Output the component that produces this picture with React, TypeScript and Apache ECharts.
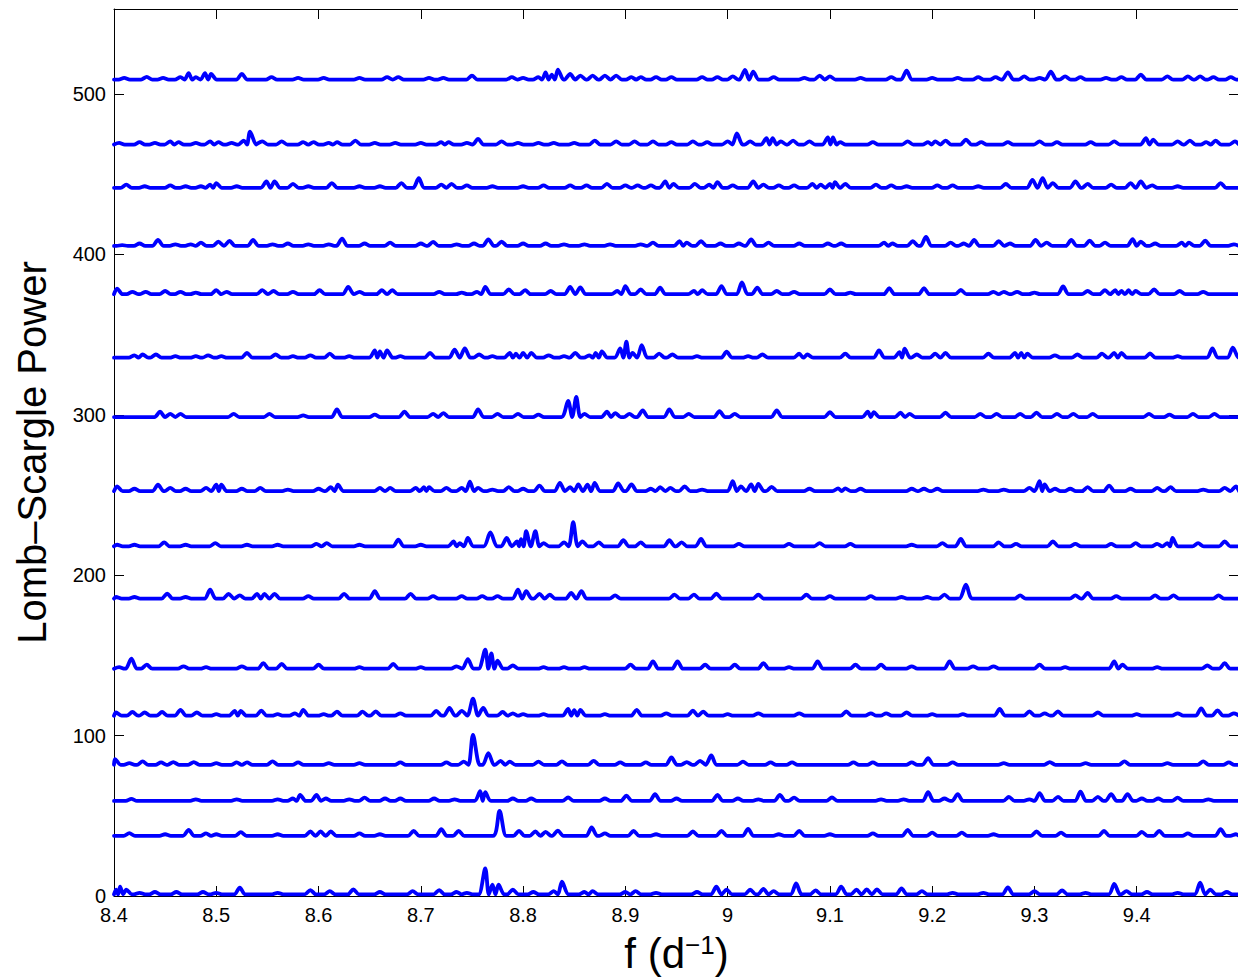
import React, { useEffect, useRef } from "react";
import * as echarts from "echarts";

const X_MIN = 8.4;
const X_MAX = 9.5;
const Y_MIN = 0;
const Y_MAX = 553;
const xTickValues = [8.4, 8.5, 8.6, 8.7, 8.8, 8.9, 9.0, 9.1, 9.2, 9.3, 9.4];
const xTickLabels = ["8.4", "8.5", "8.6", "8.7", "8.8", "8.9", "9", "9.1", "9.2", "9.3", "9.4"];
const yTickValues = [0, 100, 200, 300, 400, 500];
const yTickLabels = ["0", "100", "200", "300", "400", "500"];

const X_TITLE = "f (d{sup|−1})";
const Y_TITLE = "Lomb–Scargle Power";

// Baseline (noise floor) of each stacked periodogram, bottom to top
const baselines = [1.0, 37.5, 59.3, 81.8, 112.4, 141.7, 185.4, 218.0, 252.4, 298.6, 335.6, 375.2, 405.3, 441.5, 468.5, 509.0];

// Peaks of each periodogram: [frequency (1/d), power above its baseline]
const peaks01: [number, number][] = [
  [8.402, 3], [8.406, 4.8], [8.412, 3], [8.425, 1], [8.44, 1.5], [8.461, 1.5], [8.487, 1.5], [8.5, 1], [8.523, 4.2],
  [8.56, 1], [8.592, 2.7], [8.611, 2], [8.634, 3.1], [8.66, 1.5], [8.692, 2], [8.718, 2.7], [8.735, 1.5], [8.745, 1],
  [8.763, 16.2], [8.77, 6], [8.776, 6], [8.79, 3], [8.81, 1.5], [8.83, 2], [8.838, 8], [8.86, 1.5], [8.868, 2],
  [8.9, 1.5], [8.91, 2], [8.93, 1], [8.97, 1.5], [8.989, 4.8], [8.999, 3], [9.022, 3], [9.035, 3.5], [9.045, 2],
  [9.067, 6.9], [9.086, 2.5], [9.111, 4.8], [9.126, 3], [9.136, 3.1], [9.146, 3.1], [9.17, 3.7], [9.19, 2],
  [9.22, 1], [9.25, 1], [9.274, 4.4], [9.3, 2], [9.327, 2.5], [9.35, 1], [9.378, 6.5], [9.39, 2], [9.41, 1.5],
  [9.44, 1], [9.462, 7.3], [9.472, 3], [9.488, 1.5],
];
const peaks02: [number, number][] = [
  [8.415, 1.7], [8.45, 1], [8.473, 3.7], [8.49, 1.5], [8.5, 1], [8.524, 2.3], [8.56, 1], [8.592, 2.7], [8.602, 2.7],
  [8.612, 2.7], [8.64, 1.5], [8.66, 1], [8.693, 3.1], [8.72, 4.2], [8.737, 3.1], [8.777, 15.6], [8.796, 3.1],
  [8.812, 2.7], [8.822, 2.5], [8.834, 3.3], [8.867, 5.2], [8.88, 1.5], [8.908, 3.1], [8.93, 1], [8.966, 2.7],
  [8.994, 3.1], [9.02, 4.4], [9.05, 1], [9.07, 3.1], [9.1, 1], [9.142, 1.5], [9.176, 3.7], [9.2, 2], [9.229, 2],
  [9.26, 1], [9.302, 2.7], [9.326, 2], [9.368, 3.1], [9.405, 2.5], [9.422, 3.1], [9.45, 1.5], [9.482, 4.2], [9.497, 1],
];
const peaks03: [number, number][] = [
  [8.417, 1.3], [8.48, 1], [8.52, 1], [8.56, 1], [8.575, 1.5], [8.582, 3.7], [8.598, 3.7], [8.607, 1.5], [8.63, 1],
  [8.645, 2], [8.665, 1.5], [8.68, 1.5], [8.713, 1.5], [8.733, 1], [8.758, 6], [8.763, 5.5], [8.79, 1.5],
  [8.808, 1.5], [8.844, 2.1], [8.88, 1.5], [8.901, 3.3], [8.929, 4.2], [8.95, 1.5], [8.99, 3.7], [9.01, 1.5],
  [9.03, 1], [9.051, 3.7], [9.065, 2], [9.102, 2.1], [9.15, 1], [9.172, 1], [9.196, 5.4], [9.212, 1.5],
  [9.225, 4.2], [9.275, 2.5], [9.295, 1], [9.305, 4.8], [9.323, 2.5], [9.345, 5.8], [9.362, 2.5], [9.375, 4.2],
  [9.391, 4.2], [9.405, 1.5], [9.421, 1.5], [9.44, 2], [9.47, 1],
];
const peaks04: [number, number][] = [
  [8.401, 3.5], [8.415, 1], [8.428, 2.1], [8.446, 1.5], [8.458, 1.7], [8.478, 1.7], [8.5, 1], [8.52, 1.5],
  [8.53, 1.5], [8.555, 2.1], [8.58, 1.5], [8.61, 1], [8.64, 1], [8.68, 1.5], [8.725, 1.5], [8.742, 2],
  [8.751, 18.7], [8.766, 7.3], [8.778, 2.5], [8.787, 2], [8.815, 2], [8.838, 2.1], [8.869, 2.5], [8.895, 1.5],
  [8.92, 1.5], [8.945, 4.6], [8.96, 1.7], [8.973, 2.5], [8.984, 5.8], [9.015, 2], [9.042, 1.5], [9.063, 1.5],
  [9.123, 1.5], [9.142, 1.5], [9.18, 1.5], [9.196, 4.2], [9.22, 1.5], [9.27, 1], [9.315, 1.7], [9.35, 1],
  [9.388, 2.1], [9.43, 1], [9.465, 2.1], [9.49, 1.5],
];
const peaks05: [number, number][] = [
  [8.402, 2], [8.418, 2.3], [8.43, 2], [8.447, 2.3], [8.465, 3.7], [8.481, 2], [8.5, 1], [8.518, 3], [8.524, 3],
  [8.544, 3.1], [8.56, 1], [8.577, 1.5], [8.585, 3.7], [8.605, 1], [8.618, 2.5], [8.643, 2.5], [8.656, 2.7],
  [8.68, 1.5], [8.715, 3], [8.728, 4.8], [8.74, 3], [8.751, 10.6], [8.761, 4.8], [8.78, 2.3], [8.79, 1.5],
  [8.8, 1], [8.82, 1], [8.844, 4.2], [8.85, 3.5], [8.856, 3.7], [8.88, 1], [8.911, 3.7], [8.94, 1.5],
  [8.966, 3.1], [8.976, 2.5], [9.0, 1], [9.03, 1.5], [9.07, 1.5], [9.116, 2.7], [9.14, 1.5], [9.155, 1.5],
  [9.175, 2], [9.2, 1], [9.23, 1], [9.266, 4.2], [9.295, 2.7], [9.31, 1.5], [9.323, 2.7], [9.362, 2],
  [9.4, 1], [9.44, 1.5], [9.463, 4.6], [9.479, 3.3], [9.495, 1.5],
];
const peaks06: [number, number][] = [
  [8.405, 1], [8.417, 6.2], [8.432, 2.5], [8.468, 1.5], [8.49, 1], [8.525, 1.5], [8.546, 3.5], [8.564, 3],
  [8.6, 2.5], [8.64, 1], [8.673, 3], [8.7, 1], [8.735, 1.5], [8.746, 6], [8.763, 11.9], [8.769, 9.5],
  [8.775, 5], [8.79, 2], [8.82, 1], [8.84, 1], [8.86, 1], [8.905, 2.5], [8.927, 4.6], [8.951, 4.6],
  [8.978, 2.5], [9.007, 2.5], [9.035, 3.5], [9.06, 1], [9.088, 4.6], [9.125, 2.5], [9.15, 2.5], [9.18, 1.5],
  [9.217, 4.6], [9.24, 1.5], [9.26, 1.5], [9.305, 2.5], [9.33, 1], [9.378, 4.6], [9.386, 2.5], [9.42, 1],
  [9.469, 2], [9.486, 3.5],
];
const peaks07: [number, number][] = [
  [8.402, 1], [8.42, 1], [8.452, 3.1], [8.47, 1], [8.494, 5.6], [8.512, 3], [8.523, 2], [8.54, 3], [8.547, 3],
  [8.557, 3], [8.59, 1.5], [8.625, 3], [8.655, 4.6], [8.69, 3], [8.712, 1.5], [8.74, 1.5], [8.76, 1.5],
  [8.775, 1.5], [8.795, 5.6], [8.803, 4.6], [8.816, 3], [8.826, 2.5], [8.847, 3.5], [8.857, 4.6], [8.89, 2],
  [8.948, 2.5], [8.967, 2.5], [8.989, 3.1], [9.03, 2.5], [9.077, 2.5], [9.1, 1.5], [9.14, 1.5], [9.17, 1],
  [9.195, 1], [9.212, 2.5], [9.233, 8.7], [9.286, 2], [9.34, 2], [9.352, 3.5], [9.38, 1.5], [9.418, 2],
  [9.436, 2], [9.48, 2],
];
const peaks08: [number, number][] = [
  [8.403, 1], [8.42, 1], [8.449, 2.5], [8.47, 1], [8.499, 2], [8.53, 1], [8.56, 1], [8.598, 1.5], [8.608, 2],
  [8.64, 1], [8.678, 4.2], [8.7, 1], [8.732, 3], [8.738, 2], [8.746, 5.2], [8.768, 8.7], [8.784, 5.2],
  [8.794, 3], [8.798, 4.5], [8.803, 9.4], [8.812, 9.4], [8.82, 2], [8.84, 2.5], [8.849, 15], [8.858, 3.1],
  [8.874, 2.5], [8.898, 3.8], [8.915, 2.5], [8.943, 3.8], [8.955, 2.5], [8.974, 4.6], [9.011, 1.5],
  [9.06, 1.5], [9.09, 2], [9.12, 1.5], [9.18, 1], [9.21, 2], [9.228, 4.6], [9.265, 2.5], [9.282, 1.5],
  [9.318, 3.1], [9.34, 1.5], [9.375, 1.5], [9.399, 2], [9.42, 1.5], [9.43, 2], [9.435, 5.2], [9.46, 2], [9.486, 3.1],
];
const peaks09: [number, number][] = [
  [8.403, 3], [8.42, 1.5], [8.443, 4], [8.455, 2], [8.47, 1.5], [8.49, 2], [8.5, 4], [8.505, 4], [8.525, 1.5],
  [8.543, 2], [8.57, 1], [8.6, 1.5], [8.612, 2.5], [8.619, 4], [8.66, 2], [8.67, 2], [8.695, 2], [8.703, 2.5],
  [8.708, 2.5], [8.725, 2], [8.74, 2], [8.748, 6], [8.756, 2], [8.77, 1], [8.786, 2.5], [8.8, 1.5], [8.816, 3.5],
  [8.836, 5.2], [8.846, 2.5], [8.854, 4.2], [8.863, 4], [8.87, 5.2], [8.893, 4.8], [8.906, 4.2], [8.925, 1.5],
  [8.934, 2.5], [8.944, 2], [8.958, 3], [8.975, 1], [9.005, 6.2], [9.013, 3], [9.023, 4.2], [9.03, 4.6],
  [9.043, 2.7], [9.08, 1.5], [9.108, 1.7], [9.115, 1.7], [9.13, 1.5], [9.18, 1.5], [9.192, 1.5], [9.205, 1.5],
  [9.25, 1], [9.27, 1], [9.295, 2], [9.305, 6.2], [9.31, 4.2], [9.32, 1.5], [9.335, 1.5], [9.352, 2.5],
  [9.373, 3.5], [9.394, 1.5], [9.42, 2], [9.433, 2.5], [9.465, 1], [9.486, 2], [9.497, 3],
];
const peaks10: [number, number][] = [
  [8.445, 3.3], [8.455, 2], [8.465, 2], [8.517, 2], [8.552, 2], [8.585, 1], [8.618, 4.8], [8.655, 1.5],
  [8.684, 3.3], [8.712, 2], [8.722, 2.5], [8.756, 4.8], [8.775, 2], [8.795, 2], [8.815, 1.5], [8.844, 10],
  [8.852, 12.5], [8.86, 2], [8.882, 3.3], [8.89, 2.5], [8.904, 2], [8.917, 4.2], [8.943, 4.8], [8.962, 2],
  [8.992, 3.7], [9.007, 2], [9.048, 4.2], [9.1, 3], [9.137, 3.3], [9.143, 3], [9.169, 2.7], [9.178, 2],
  [9.213, 2.7], [9.247, 2], [9.263, 2], [9.286, 2], [9.302, 2.7], [9.322, 2], [9.338, 2], [9.357, 2],
  [9.412, 2], [9.432, 1.5], [9.455, 2], [9.476, 2],
];
const peaks11: [number, number][] = [
  [8.42, 1.5], [8.428, 2], [8.441, 2], [8.46, 1], [8.48, 1], [8.492, 1.5], [8.505, 1], [8.53, 3], [8.558, 2],
  [8.575, 1], [8.592, 1.5], [8.611, 2.5], [8.63, 1], [8.655, 4.5], [8.66, 4], [8.667, 4.5], [8.68, 1],
  [8.709, 3], [8.733, 5], [8.743, 5.8], [8.757, 2], [8.77, 1], [8.787, 3], [8.793, 2.5], [8.8, 3], [8.808, 3],
  [8.825, 1.5], [8.84, 1], [8.851, 3], [8.865, 1.5], [8.871, 3], [8.877, 4], [8.895, 5.8], [8.901, 10],
  [8.907, 3], [8.916, 7.9], [8.933, 2.5], [8.946, 2], [8.97, 1], [8.999, 3.7], [9.02, 1], [9.034, 2],
  [9.07, 2.5], [9.078, 2], [9.115, 2.5], [9.148, 4.6], [9.168, 3.5], [9.173, 5.6], [9.185, 2], [9.203, 2.5],
  [9.213, 3], [9.255, 2.5], [9.281, 3], [9.287, 3], [9.293, 2.5], [9.32, 1.5], [9.342, 2], [9.366, 2.5],
  [9.378, 3], [9.385, 3], [9.413, 2.7], [9.44, 1], [9.474, 5.8], [9.494, 6.2],
];
const peaks12: [number, number][] = [
  [8.403, 3.5], [8.418, 1.5], [8.431, 1.5], [8.45, 2], [8.465, 1.5], [8.48, 1], [8.5, 2.5], [8.51, 1.5],
  [8.545, 2.5], [8.556, 2], [8.575, 1.5], [8.601, 2.5], [8.629, 4.6], [8.64, 1.5], [8.662, 2.5], [8.672, 2.5],
  [8.718, 1.5], [8.74, 1], [8.755, 1.5], [8.763, 4.6], [8.786, 3], [8.802, 2.5], [8.827, 2], [8.846, 4.6],
  [8.856, 4.2], [8.892, 2], [8.9, 5], [8.915, 3], [8.934, 4], [8.967, 2], [8.975, 2.5], [8.994, 5],
  [9.014, 7.3], [9.029, 4], [9.048, 2], [9.065, 1.5], [9.1, 3], [9.12, 1], [9.158, 3.7], [9.192, 3.7],
  [9.228, 2.7], [9.26, 1.5], [9.27, 1.5], [9.283, 1.5], [9.3, 1], [9.328, 4.8], [9.352, 2], [9.369, 2.5],
  [9.379, 2.5], [9.385, 2], [9.392, 2.5], [9.399, 2], [9.417, 3], [9.442, 2], [9.465, 1.5],
];
const peaks13: [number, number][] = [
  [8.408, 0.5], [8.425, 1.5], [8.443, 3.7], [8.46, 1], [8.475, 1], [8.485, 2], [8.502, 2.7], [8.513, 3.1],
  [8.536, 3.7], [8.555, 1], [8.57, 1.5], [8.59, 1], [8.61, 1], [8.623, 4.6], [8.645, 1.5], [8.67, 2],
  [8.7, 1.5], [8.712, 2.5], [8.735, 1], [8.752, 1.5], [8.766, 4], [8.779, 2.7], [8.8, 1.5], [8.822, 1.5],
  [8.84, 1], [8.86, 1], [8.885, 1], [8.915, 1], [8.927, 2], [8.953, 3], [8.96, 2], [8.974, 3], [8.993, 1.5],
  [9.011, 1.5], [9.023, 4], [9.04, 2], [9.07, 1.5], [9.098, 1.5], [9.111, 1.5], [9.153, 2], [9.161, 1.5],
  [9.181, 3], [9.194, 5.6], [9.218, 2], [9.231, 1.5], [9.241, 3.7], [9.265, 3], [9.276, 1.5], [9.301, 3.7],
  [9.312, 2], [9.336, 3.7], [9.354, 3.2], [9.369, 2], [9.396, 4.2], [9.404, 2.7], [9.418, 1.5], [9.444, 2],
  [9.451, 2], [9.467, 3.2], [9.495, 1],
];
const peaks14: [number, number][] = [
  [8.412, 2], [8.43, 1], [8.455, 1.5], [8.47, 1], [8.485, 1], [8.494, 2], [8.5, 3], [8.52, 1], [8.549, 4],
  [8.557, 4], [8.575, 2.5], [8.59, 1], [8.613, 3], [8.64, 1], [8.66, 1], [8.681, 3], [8.698, 6], [8.72, 2],
  [8.73, 2.5], [8.745, 1.5], [8.77, 1], [8.8, 1], [8.82, 1.5], [8.846, 1.5], [8.862, 1.5], [8.882, 2.5],
  [8.9, 1.5], [8.912, 1.5], [8.925, 1.5], [8.939, 4], [8.947, 2.5], [8.968, 2.5], [8.982, 2], [8.99, 3.5],
  [9.005, 1.5], [9.025, 4], [9.035, 2], [9.05, 1.5], [9.065, 1.5], [9.083, 2.5], [9.091, 2], [9.1, 2.5],
  [9.105, 3.5], [9.115, 2.5], [9.145, 2], [9.16, 1.5], [9.175, 1], [9.205, 1.5], [9.22, 1.5], [9.245, 1],
  [9.272, 2.5], [9.298, 5], [9.308, 6], [9.318, 3], [9.34, 4], [9.352, 2.5], [9.375, 2], [9.394, 3],
  [9.404, 4], [9.415, 1.5], [9.44, 1], [9.482, 3],
];
const peaks15: [number, number][] = [
  [8.405, 1], [8.425, 1.5], [8.44, 1], [8.455, 2], [8.463, 1.5], [8.48, 1], [8.494, 2], [8.502, 1.5],
  [8.515, 1], [8.527, 2.5], [8.533, 8], [8.545, 2], [8.564, 2], [8.585, 1.5], [8.595, 1.5], [8.61, 1],
  [8.618, 1.5], [8.636, 2.5], [8.655, 1], [8.675, 1], [8.7, 1], [8.72, 1.5], [8.727, 1.5], [8.745, 1],
  [8.756, 3.5], [8.779, 2], [8.795, 1], [8.815, 1], [8.83, 1], [8.85, 1], [8.87, 2.5], [8.891, 2], [8.909, 2],
  [8.927, 2], [8.945, 1.5], [8.966, 2], [8.98, 1.5], [9.0, 2], [9.009, 7], [9.022, 2], [9.038, 4], [9.044, 4],
  [9.052, 2], [9.064, 2.5], [9.08, 2], [9.098, 4.5], [9.103, 4.5], [9.11, 1.5], [9.142, 1.5], [9.176, 2],
  [9.196, 1.5], [9.203, 2], [9.213, 2.5], [9.233, 3], [9.248, 1.5], [9.274, 1.5], [9.305, 2], [9.322, 1.5],
  [9.355, 1.5], [9.378, 2], [9.409, 4], [9.416, 3], [9.44, 2], [9.452, 2.5], [9.468, 1.5], [9.477, 2.5], [9.496, 2],
];
const peaks16: [number, number][] = [
  [8.41, 1], [8.432, 1.7], [8.448, 1], [8.465, 1.5], [8.473, 4], [8.48, 1.5], [8.489, 4], [8.495, 3.5],
  [8.525, 3.5], [8.554, 1.5], [8.58, 1], [8.605, 1], [8.64, 1], [8.667, 1.5], [8.678, 1.5], [8.708, 1],
  [8.722, 1], [8.75, 2.5], [8.789, 1.5], [8.8, 1], [8.815, 1.5], [8.822, 4.5], [8.828, 3], [8.834, 6.2],
  [8.846, 3.5], [8.856, 2.5], [8.868, 2.5], [8.88, 2.5], [8.891, 2.5], [8.906, 1.5], [8.915, 1.5], [8.93, 1.5],
  [8.945, 1.5], [8.975, 1.5], [8.99, 1.5], [9.005, 2], [9.017, 6], [9.025, 5], [9.045, 1.5], [9.075, 1],
  [9.09, 2.5], [9.1, 2], [9.13, 1], [9.16, 1.5], [9.175, 5.5], [9.2, 1], [9.225, 1], [9.245, 1.5],
  [9.262, 1.5], [9.274, 4.5], [9.29, 2], [9.305, 1], [9.316, 5], [9.33, 2], [9.345, 1.5], [9.37, 1],
  [9.385, 1.5], [9.404, 3], [9.43, 2], [9.45, 2], [9.462, 2], [9.475, 1.5], [9.492, 1.5],
];

const allPeaks = [peaks01, peaks02, peaks03, peaks04, peaks05, peaks06, peaks07, peaks08,
  peaks09, peaks10, peaks11, peaks12, peaks13, peaks14, peaks15, peaks16];

function buildTrace(base: number, peaks: [number, number][]): [number, number][] {
  const sorted = [...peaks].sort((a, b) => a[0] - b[0]);
  const pts: [number, number][] = [[X_MIN, base]];
  for (let i = 0; i < sorted.length; i++) {
    const [f, h] = sorted[i];
    const w = h >= 8 ? 0.0065 : 0.0055;
    const prevF = i > 0 ? sorted[i - 1][0] : -Infinity;
    const nextF = i < sorted.length - 1 ? sorted[i + 1][0] : Infinity;
    const left = Math.max(f - w, (f + prevF) / 2, X_MIN);
    const right = Math.min(f + w, (f + nextF) / 2, X_MAX);
    const last = pts[pts.length - 1];
    if (left > last[0] + 1e-9) pts.push([left, base]);
    pts.push([f, base + h]);
    if (right > f + 1e-9) pts.push([right, base]);
  }
  const last = pts[pts.length - 1];
  if (last[0] < X_MAX) pts.push([X_MAX, base]);
  return pts;
}

const FONT = "'Liberation Sans', Arial, Helvetica, sans-serif";

function labelFor(v: number, values: number[], labels: string[]): string {
  for (let i = 0; i < values.length; i++) {
    if (Math.abs(values[i] - v) < 1e-6) return labels[i];
  }
  return "";
}

export default function App() {
  const ref = useRef<HTMLDivElement>(null);
  useEffect(() => {
    if (!ref.current) return;
    const chart = echarts.init(ref.current, undefined, { renderer: "svg" });
    const axisCommon = {
      axisLine: { show: true, onZero: false, lineStyle: { color: "#000", width: 1 } },
      axisTick: { show: true, inside: true, length: 10, lineStyle: { color: "#000", width: 1 } },
      splitLine: { show: false },
    };
    chart.setOption({
      animation: false,
      backgroundColor: "#fff",
      grid: { left: 114, right: 1, top: 9, bottom: 81, containLabel: false, outerBoundsMode: "none" },
      xAxis: [
        {
          type: "value", min: X_MIN, max: X_MAX, interval: 0.1, position: "bottom",
          ...axisCommon,
          axisLabel: {
            show: true, margin: 9, fontSize: 20, color: "#000", fontFamily: FONT,
            formatter: (v: number) => labelFor(v, xTickValues, xTickLabels),
          },
          name: X_TITLE, nameLocation: "middle", nameGap: 36,
          nameTextStyle: {
            fontSize: 42, lineHeight: 42, color: "#000", fontFamily: FONT,
            rich: { sup: { fontSize: 26, lineHeight: 26, color: "#000", fontFamily: FONT, verticalAlign: "top" } },
          },
        },
        {
          type: "value", min: X_MIN, max: X_MAX, interval: 0.1, position: "top",
          ...axisCommon, axisLabel: { show: false },
        },
      ],
      yAxis: [
        {
          type: "value", min: Y_MIN, max: Y_MAX, interval: 100, position: "left",
          ...axisCommon,
          axisLabel: {
            show: true, margin: 8, fontSize: 20, color: "#000", fontFamily: FONT,
            formatter: (v: number) => labelFor(v, yTickValues, yTickLabels),
          },
          name: Y_TITLE, nameLocation: "middle", nameGap: 62, nameRotate: 90,
          nameTextStyle: { fontSize: 40, color: "#000", fontFamily: FONT },
        },
        {
          type: "value", min: Y_MIN, max: Y_MAX, interval: 100, position: "right",
          ...axisCommon, axisLabel: { show: false },
        },
      ],
      series: allPeaks.map((p, i) => ({
        type: "line",
        xAxisIndex: 0,
        yAxisIndex: 0,
        data: buildTrace(baselines[i], p),
        showSymbol: false,
        symbol: "none",
        smooth: 0.3,
        lineStyle: { color: "#0000ff", width: 3.8, join: "round", cap: "round" },
        silent: true,
      })),
    });
    return () => chart.dispose();
  }, []);
  return (
    <div style={{ position: "fixed", left: 0, top: 0, width: 1238, height: 977, overflow: "hidden", background: "#fff" }}>
      <div ref={ref} style={{ width: 1240, height: 977 }} />
    </div>
  );
}
